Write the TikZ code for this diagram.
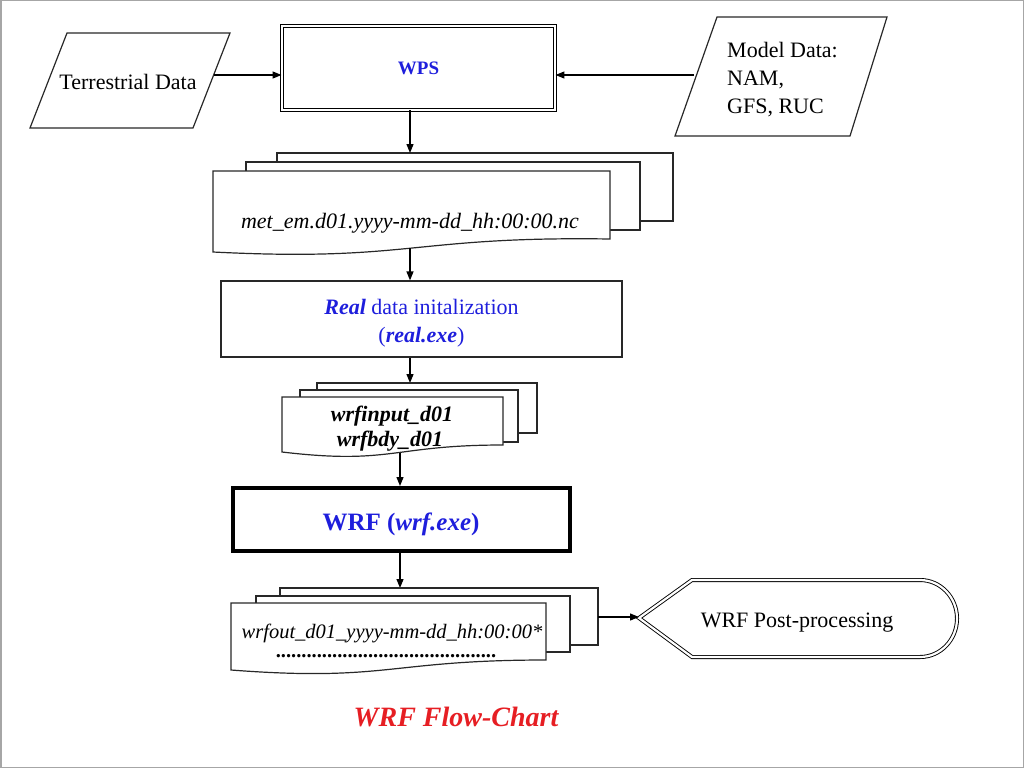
\documentclass[tikz,border=0pt]{standalone}
\usepackage{fontspec}
\setmainfont{Liberation Serif}
\usetikzlibrary{arrows.meta}
\definecolor{txtblue}{RGB}{30,30,220}
\definecolor{ttlred}{RGB}{230,30,35}
\definecolor{edge}{RGB}{40,40,40}
\tikzset{
 ln/.style={draw=edge,line width=1.2pt},
 sheet/.style={ln,fill=white},
 arr/.style={draw=black,line width=1.2pt,-{Triangle[length=9pt,width=7pt]}},
 txt/.style={inner sep=0pt,anchor=base,font=\fontsize{22}{26}\selectfont},
 dbl/.style={draw=black,line width=0.9pt,double=white,double distance=2.2pt},
}
\begin{document}
\begin{tikzpicture}[x=1pt,y=-1pt,line join=miter]
\useasboundingbox (0,0) rectangle (1024,768);
\draw[gray!70,line width=1.5pt] (0.75,0.75) rectangle (1023.25,767.25);

% Terrestrial data
\draw[ln] (67,33) -- (230,33) -- (193,128) -- (30,128) -- cycle;
\node[txt] (terr) at (128,89) {Terrestrial Data};
\coordinate (terr-e) at (214,75);

% Model data
\draw[ln] (717,17) -- (887,17) -- (850,136) -- (675,136) -- cycle;
\node[txt,anchor=base west] (model1) at (727,57) {Model Data:};
\node[txt,anchor=base west] (model2) at (727,85) {NAM,};
\node[txt,anchor=base west] (model3) at (727,113) {GFS, RUC};
\coordinate (model-w) at (694,75);

% WPS
\node[dbl,minimum width=273pt,minimum height=84pt,inner sep=0pt] (wps) at (418.5,68) {};
\node[txt,font=\bfseries\fontsize{19}{22}\selectfont,text=txtblue] (wpst) at (418.5,74.5) {WPS};
\draw[arr] (terr-e) -- (terr-e -| wps.west);
\draw[arr] (model-w) -- (model-w -| wps.east);

% met_em documents
\draw[sheet] (277,153) rectangle (673,221);
\draw[sheet] (246,162) rectangle (640,230);
\draw[sheet] (213,171) -- (610,171) -- (610,239) .. controls (411,236) and (411,262) .. (213,252) -- cycle;
\node[txt,font=\itshape\fontsize{22}{26}\selectfont] (met) at (410,228) {met\_em.d01.yyyy-mm-dd\_hh:00:00.nc};
\coordinate (met-top) at (410,153);
\coordinate (met-bot) at (410,248);
\draw[arr] (met-top |- wps.south) -- (met-top);

% real
\node[ln,minimum width=401pt,minimum height=76pt,inner sep=0pt] (real) at (421.5,319) {};
\node[txt,text=txtblue] (real1) at (421.5,314) {\textbf{\textit{Real}} data initalization};
\node[txt,text=txtblue] (real2) at (421.5,342) {(\textbf{\textit{real.exe}})};
\draw[arr] (met-bot) -- (met-bot |- real.north);
\coordinate (in-top) at (410,383);
\draw[arr] (in-top |- real.south) -- (in-top);

% wrfinput documents
\draw[sheet] (317,383) rectangle (537,433);
\draw[sheet] (300,390) rectangle (518,442);
\draw[sheet] (282,397) -- (503,397) -- (503,445) .. controls (392,445) and (392,465) .. (282,452) -- cycle;
\node[txt,font=\bfseries\itshape\fontsize{22}{26}\selectfont] (in1) at (392,421) {wrfinput\_d01};
\node[txt,font=\bfseries\itshape\fontsize{22}{26}\selectfont] (in2) at (390,446) {wrfbdy\_d01};
\coordinate (in-bot) at (400,453);

% WRF
\node[draw=black,line width=4pt,minimum width=337pt,minimum height=63pt,inner sep=0pt] (wrf) at (401.5,519.5) {};
\node[txt,text=txtblue,font=\bfseries\fontsize{25}{30}\selectfont] (wrft) at (401,530) {WRF (\textit{wrf.exe})};
\draw[arr] (in-bot) -- (in-bot |- wrf.north);
\coordinate (out-top) at (400,588);
\draw[arr] (out-top |- wrf.south) -- (out-top);

% wrfout documents
\draw[sheet] (280,588) rectangle (598,645);
\draw[sheet] (256,596) rectangle (570,652);
\draw[sheet] (231,603) -- (546,603) -- (546,660) .. controls (388,660) and (388,682) .. (231,670) -- cycle;
\node[txt,font=\itshape\fontsize{20.5}{24}\selectfont] (out1) at (392,638) {wrfout\_d01\_yyyy-mm-dd\_hh:00:00*};
\node[txt,font=\bfseries\fontsize{20.5}{24}\selectfont] (out2) at (386,657) {...........................................};

% post-processing
\draw[dbl] (639,618) -- (692,580) -- (920,580) arc[start angle=-90,end angle=90,x radius=37,y radius=38.5] -- (692,657) -- cycle;
\coordinate (post-w) at (639,618);
\node[txt] (post) at (797,627) {WRF Post-processing};
\coordinate (out-e) at (598,617);
\draw[arr] (out-e) -- (out-e -| post-w);

% title
\node[txt,text=ttlred,font=\bfseries\itshape\fontsize{28}{32}\selectfont] (title) at (456,726) {WRF Flow-Chart};
\end{tikzpicture}
\end{document}
